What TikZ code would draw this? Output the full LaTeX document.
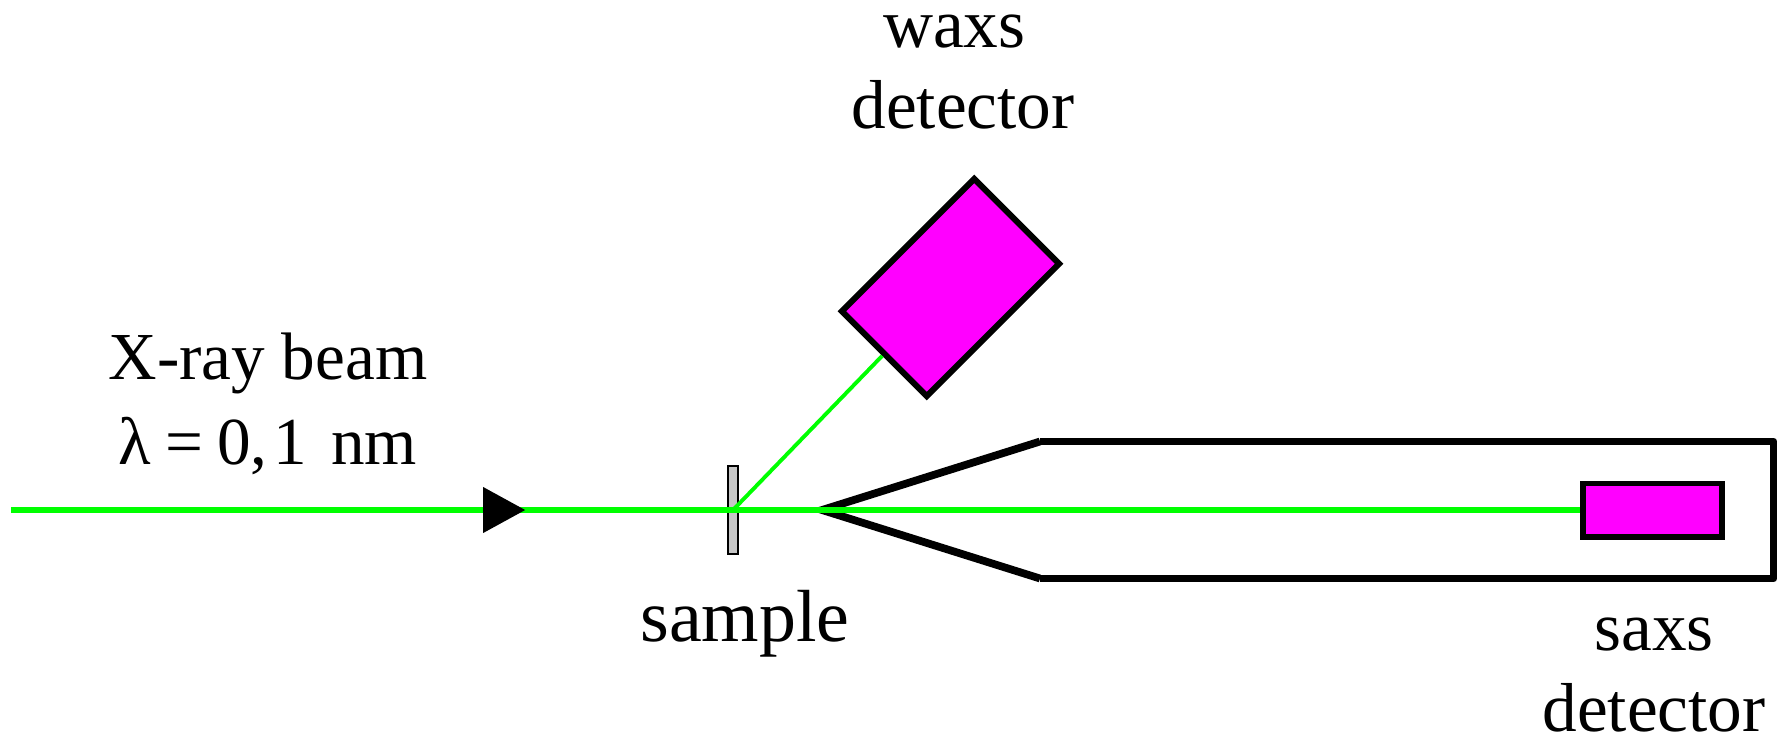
\documentclass[tikz,border=0pt]{standalone}
\usepackage{fontspec}
\setmainfont{Liberation Serif}
\usetikzlibrary{shapes.geometric}
\definecolor{beamgreen}{HTML}{00FF00}
\definecolor{detmagenta}{HTML}{FF00FF}

\begin{document}
\begin{tikzpicture}[x=0.01cm, y=-0.01cm]
  \tikzset{
    det_node/.style={rectangle, fill=detmagenta, draw, line width=1.7pt, inner sep=0pt},
    label_node/.style={inner sep=0pt, align=center, font=\fontsize{19.7}{23}\selectfont},
    beam_line/.style={beamgreen, line width=1.6pt},
    tube_line/.style={line width=2.2pt, line join=round}
  }

  % Marco de la figura
  \useasboundingbox (0,0) rectangle (1785,736);

  % Tubo de vacío
  \coordinate (tip) at (822,510);
  \draw[tube_line, line join=miter] (1040,441.5) -- (tip) -- (1040,578.5);
  \draw[tube_line] (1040,441.5) -- (1773.5,441.5) -- (1773.5,578.5) -- (1040,578.5);

  % Muestra y detectores
  \node[rectangle, fill=gray!45, draw, line width=0.6pt, inner sep=0pt, minimum width=0.105cm, minimum height=0.88cm] (sample) at (733,510) {};
  \node[det_node, rotate=45, minimum width=1.87cm, minimum height=1.2cm] (waxs) at (950.5,287.5) {};
  \node[det_node, minimum width=1.39cm, minimum height=0.53cm] (saxs) at (1652.5,510) {};

  % Haz directo y haz difractado
  \coordinate (source) at (11,510);
  \draw[beam_line] (source) -- (sample.center) -- (saxs.west);
  \draw[beamgreen, line width=1.1pt] (sample.center) -- (waxs.west);

  % Punta de flecha sobre el haz
  \node[isosceles triangle, isosceles triangle stretches, fill=black, inner sep=0pt, minimum width=0.46cm, minimum height=0.42cm, anchor=apex] (arrow) at (527,510) {};

  % Etiquetas
  \node[label_node, font=\fontsize{19.1}{24}\selectfont] (beam_label) at (268,404) {X-ray beam\\λ\hspace{4pt}=\hspace{4pt}0,\hspace{1.5pt}1\hspace{7pt}nm};
  \node[label_node] (waxs_label) at (963,72) {waxs~\mbox{}\\detector};
  \node[label_node, font=\fontsize{21}{23}\selectfont, anchor=base] (sample_label) at (745,641) {sample};
  \node[label_node] (saxs_label) at (1654,675) {saxs\\detector};
\end{tikzpicture}
\end{document}
